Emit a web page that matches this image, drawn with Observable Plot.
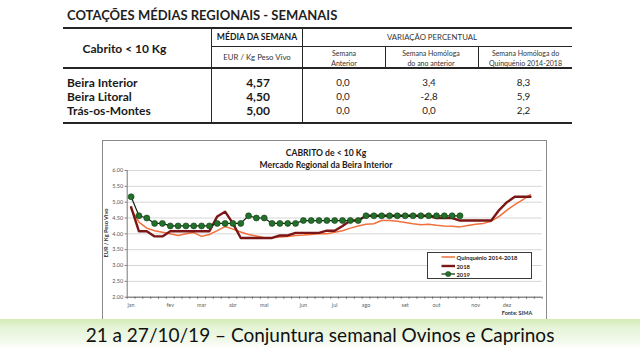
<!DOCTYPE html>
<html><head><meta charset="utf-8">
<script src="https://cdn.jsdelivr.net/npm/d3@7"></script>
<script src="https://cdn.jsdelivr.net/npm/@observablehq/plot@0.6"></script>
<style>
body{margin:0;width:640px;height:360px;background:#fff;position:relative;overflow:hidden;font-family:Lato,"Open Sans",sans-serif;color:#1a1a1a}
.a{position:absolute;white-space:nowrap;line-height:1}
.c{transform:translate(-50%,-50%)}
.l{transform:translate(0,-50%)}
.ln{position:absolute;background:#262626}
</style></head><body>
<script>
// ---------- table data ----------
const tableTitle = "COTAÇÕES MÉDIAS REGIONAIS - SEMANAIS";
const product = "Cabrito < 10 Kg";
const regions = ["Beira Interior", "Beira Litoral", "Trás-os-Montes"];
const mediaSemana = [4.57, 4.50, 5.00];
const varSemanaAnterior = [0.0, 0.0, 0.0];
const varHomologaAno = [3.4, -2.8, 0.0];
const varHomologaQuinq = [8.3, 5.9, 2.2];

// ---------- chart data ----------
const chartTitle = "CABRITO de < 10 Kg";
const chartSubtitle = "Mercado Regional da Beira Interior";
const seriesNames = ["Quinquénio 2014-2018", "2018", "2019"];
const quinquenio = [4.78,4.37,4.18,4.10,4.05,4.00,3.95,4.00,4.04,3.92,3.98,4.10,4.23,4.15,4.06,3.98,3.93,3.88,3.88,3.90,3.92,3.95,3.96,3.98,4.00,4.00,4.05,4.10,4.18,4.25,4.30,4.32,4.42,4.42,4.40,4.36,4.32,4.29,4.30,4.27,4.25,4.24,4.22,4.26,4.30,4.33,4.40,4.55,4.75,4.92,5.07,5.24];
const y2018 = [4.84,4.08,4.08,3.92,3.92,4.08,4.08,4.08,4.08,4.08,4.08,4.55,4.70,4.33,3.87,3.87,3.87,3.87,3.87,3.95,3.95,4.03,4.03,4.03,4.03,4.10,4.10,4.25,4.42,4.42,4.57,4.57,4.57,4.57,4.57,4.57,4.57,4.57,4.57,4.50,4.50,4.50,4.42,4.42,4.42,4.42,4.42,4.75,5.00,5.17,5.17,5.17];
const y2019 = [5.17,4.57,4.50,4.33,4.33,4.25,4.25,4.25,4.25,4.25,4.25,4.33,4.33,4.33,4.33,4.57,4.50,4.50,4.33,4.33,4.33,4.33,4.42,4.42,4.42,4.42,4.42,4.42,4.42,4.42,4.57,4.57,4.57,4.57,4.57,4.57,4.57,4.57,4.57,4.57,4.57,4.57,4.57];
const monthLabels = ["jan","fev","mar","abr","mai","jun","jul","ago","set","out","nov","dez"];
const monthWeeks = [1,6,10,14,18,23,27,31,36,40,45,49];
const yTicks = [2,2.5,3,3.5,4,4.5,5,5.5,6];
const yLabel = "EUR / Kg Peso Vivo";
const source = "Fonte: SIMA";
const footer = "21 a 27/10/19 – Conjuntura semanal Ovinos e Caprinos";

const colors = {quinq:"#f0703c", y2018:"#7a1616", y2019line:"#102810", y2019dot:"#23702a"};

// ---------- helpers ----------
function el(tag, cls, style, html){
  const e=document.createElement(tag); if(cls) e.className=cls;
  Object.assign(e.style, style||{}); if(html!==undefined) e.textContent=html;
  document.body.appendChild(e); return e;
}
function txt(s,x,y,font,mode,extra){
  return el("div","a "+(mode||"c"),Object.assign({left:x+"px",top:y+"px",font:font},extra||{}),s);
}
function hline(x1,x2,y,t){el("div","ln",{left:x1+"px",top:(y-t/2)+"px",width:(x2-x1)+"px",height:t+"px"});}
function vline(x,y1,y2,t){el("div","ln",{left:(x-t/2)+"px",top:y1+"px",width:t+"px",height:(y2-y1)+"px"});}
const fmt1 = v => v.toFixed(1).replace(".",",");
const fmt2 = v => v.toFixed(2).replace(".",",");

// ---------- table ----------
txt(tableTitle,67,15,"bold 13px Lato","l",{color:"#1f1f1f"});
hline(63,572,27.5,2);
hline(211,572,46.7,1.3);
hline(63,572,68.3,2);
hline(63,572,123.3,2);
vline(211.5,27.5,123.3,1.5);
vline(302.7,27.5,123.3,1.5);
vline(385,46.7,68.3,1);
vline(478,46.7,68.3,1);
txt(product,124.5,48.3,"bold 12px Lato");
txt("MÉDIA DA SEMANA",257,37.3,"bold 8.6px Lato");
txt("VARIAÇÃO PERCENTUAL",432,37.3,"7.8px Lato",null,{color:"#333"});
txt("EUR / Kg Peso Vivo",257,57.3,"7.8px Lato",null,{color:"#333"});
const sub=[["Semana","Anterior",344],["Semana Homóloga","do ano anterior",431],["Semana Homóloga do","Quinquénio 2014-2018",525.5]];
sub.forEach(([a,b,x])=>{txt(a,x,52.7,"7px Lato",null,{color:"#333"});txt(b,x,62.7,"7px Lato",null,{color:"#333"});});
const rowY=[82.3,96.3,109.8];
regions.forEach((r,i)=>{
  txt(r,67,rowY[i],"bold 12px Lato","l");
  txt(fmt2(mediaSemana[i]),258,rowY[i],"bold 12px Lato");
  txt(fmt1(varSemanaAnterior[i]),343,rowY[i],"9.8px Lato",null,{color:"#222"});
  txt(fmt1(varHomologaAno[i]),429,rowY[i],"9.8px Lato",null,{color:"#222"});
  txt(fmt1(varHomologaQuinq[i]),523.5,rowY[i],"9.8px Lato",null,{color:"#222"});
});

// ---------- chart frame ----------
const FX=102, FY=140, FW=446, FH=178;
el("div","a",{left:FX+"px",top:FY+"px",width:(FW-1)+"px",height:(FH+4)+"px",border:"1px solid #8a8a8a",boxSizing:"border-box"});

const data=[];
quinquenio.forEach((v,i)=>data.push({s:seriesNames[0],w:i+1,v}));
y2018.forEach((v,i)=>data.push({s:seriesNames[1],w:i+1,v}));
const d19=y2019.map((v,i)=>({s:seriesNames[2],w:i+1,v}));

const weekBounds=d3.range(0.5,53.6,1);
const plot=Plot.plot({
  width:FW, height:FH,
  marginLeft:24.7, marginRight:6.3, marginTop:30, marginBottom:21.3,
  style:{fontFamily:"Lato",background:"transparent",overflow:"visible"},
  x:{domain:[0.5,53.5],axis:null,label:null},
  y:{domain:[2,6],axis:null,label:null},
  marks:[
    Plot.gridY(yTicks,{stroke:"#d6d6d6",strokeOpacity:1}),
    Plot.axisY(yTicks,{tickSize:2,tickPadding:2,tickFormat:d=>d.toFixed(2),fontSize:5.5,fill:"#555",stroke:"#777",label:null}),
    Plot.axisX(weekBounds,{tickSize:2,tickFormat:()=>"",stroke:"#666",label:null}),
    Plot.axisX(monthWeeks,{tickSize:0,tickPadding:6,tickFormat:d=>monthLabels[monthWeeks.indexOf(d)],fontSize:5.5,fill:"#666",label:null}),
    Plot.ruleY([2],{stroke:"#666"}),
    Plot.ruleX([0.5],{y1:2,y2:6,stroke:"#777"}),
    Plot.line(data.filter(d=>d.s===seriesNames[0]),{x:"w",y:"v",stroke:colors.quinq,strokeWidth:1.5}),
    Plot.line(data.filter(d=>d.s===seriesNames[1]),{x:"w",y:"v",stroke:colors.y2018,strokeWidth:2.4}),
    Plot.line(d19,{x:"w",y:"v",stroke:colors.y2019line,strokeWidth:1.2}),
    Plot.dot(d19,{x:"w",y:"v",r:3,fill:colors.y2019dot,stroke:"#0e3a10",strokeWidth:0.6})
  ]
});
plot.style.position="absolute"; plot.style.left=FX+"px"; plot.style.top=FY+"px";
document.body.appendChild(plot);

txt(chartTitle,326,153.3,"bold 8.6px Lato");
txt(chartSubtitle,326,165,"bold 8.6px Lato");
txt(yLabel,105,233,"bold 5.6px Lato",null,{transform:"translate(-50%,-50%) rotate(-90deg)",color:"#333"});
txt(source,517,313,"bold 5.5px Lato",null,{color:"#333"});

// legend
el("div","a",{left:"426.7px",top:"251.7px",width:"105.6px",height:"27.6px",border:"1px solid #3a3a3a",background:"#fff",boxSizing:"border-box"});
const legY=[256.7,265.7,274.3];
const legStyles=[{c:colors.quinq,w:1.5,dot:false},{c:colors.y2018,w:2.4,dot:false},{c:colors.y2019line,w:1.2,dot:true}];
legY.forEach((y,i)=>{
  const ns="http://www.w3.org/2000/svg";
  const s=document.createElementNS(ns,"svg");
  s.setAttribute("width","16");s.setAttribute("height","8");
  Object.assign(s.style,{position:"absolute",left:"440px",top:(y-4)+"px"});
  const L=document.createElementNS(ns,"line");
  L.setAttribute("x1","1.5");L.setAttribute("x2","15");L.setAttribute("y1","4");L.setAttribute("y2","4");
  L.setAttribute("stroke",legStyles[i].c);L.setAttribute("stroke-width",legStyles[i].w);
  s.appendChild(L);
  if(legStyles[i].dot){const C=document.createElementNS(ns,"circle");C.setAttribute("cx","8.2");C.setAttribute("cy","4");C.setAttribute("r","2.6");C.setAttribute("fill",colors.y2019dot);C.setAttribute("stroke","#0e3a10");C.setAttribute("stroke-width","0.5");s.appendChild(C);}
  document.body.appendChild(s);
  txt(seriesNames[i],456.5,y,"bold 5.8px Lato","l",{color:"#222"});
});

// footer band
el("div","a",{left:"0px",top:"319px",width:"640px",height:"30px",background:"linear-gradient(to bottom,#d3edb8 0%,#e6f4d8 30%,#f1f9ea 70%,#ffffff 100%)"});
txt(footer,320,333.5,"19px Lato",null,{color:"#111"});
</script>
</body></html>
